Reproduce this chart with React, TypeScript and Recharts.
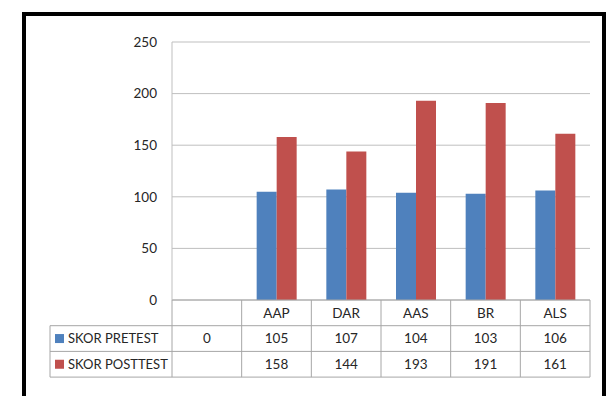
import { BarChart, Bar, XAxis, YAxis, CartesianGrid } from 'recharts';

const categories = ['', 'AAP', 'DAR', 'AAS', 'BR', 'ALS'];
const pretest: (number | null)[] = [0, 105, 107, 104, 103, 106];
const posttest: (number | null)[] = [null, 158, 144, 193, 191, 161];
const seriesNames = ['SKOR PRETEST', 'SKOR POSTTEST'];
const yTicks = [0, 50, 100, 150, 200, 250];

const data = categories.map((name, i) => ({
  name,
  pretest: pretest[i],
  posttest: posttest[i],
}));

const W = 609;
const H = 396;
const xAxisHeight = 96;
const margin = { top: 42, right: 19, bottom: 0, left: 0 };
const yAxisWidth = 172;
const plotLeft = margin.left + yAxisWidth;
const plotRight = W - margin.right;
const band = (plotRight - plotLeft) / categories.length;
const tableTop = H - margin.bottom - xAxisHeight;
const rowH = 25.7;
const tableLeft = 50;

const blue = '#4F81BD';
const red = '#C0504D';
const gridColor = '#BFBFBF';
const tableColor = '#A6A6A6';
const textColor = '#262626';
const fontSize = 13.5;

const fmt = (v: number | null) => (v === null || v === undefined ? '' : String(v));

function YTick(props: any) {
  const { y, payload } = props;
  return (
    <text x={plotLeft - 15} y={y} dy="0.35em" textAnchor="end" fill={textColor} fontSize={fontSize}>
      {payload.value}
    </text>
  );
}

// draws the data table under the plot, one column per category tick
function TableTick(props: any) {
  const { x, payload } = props;
  const i = payload.index;
  const cells = [categories[i], fmt(pretest[i]), fmt(posttest[i])];
  const bottom = tableTop + rowH * 3;
  return (
    <g>
      {cells.map((t, r) => (
        <text
          key={r}
          x={x}
          y={tableTop + rowH * r + rowH / 2}
          dy="0.35em"
          textAnchor="middle"
          fill={textColor}
          fontSize={fontSize}
        >
          {t}
        </text>
      ))}
      <line x1={x + band / 2} x2={x + band / 2} y1={tableTop} y2={bottom} stroke={tableColor} />
      {i === 0 && (
        <g>
          <line x1={plotLeft} x2={plotLeft} y1={tableTop} y2={bottom} stroke={tableColor} />
          <line x1={tableLeft} x2={tableLeft} y1={tableTop + rowH} y2={bottom} stroke={tableColor} />
          {[1, 2, 3].map((r) => (
            <line
              key={r}
              x1={tableLeft}
              x2={plotRight}
              y1={tableTop + rowH * r}
              y2={tableTop + rowH * r}
              stroke={tableColor}
            />
          ))}
          {seriesNames.map((name, s) => {
            const cy = tableTop + rowH * (s + 1) + rowH / 2;
            return (
              <g key={name}>
                <rect x={tableLeft + 5} y={cy - 4.5} width={9} height={9} fill={s === 0 ? blue : red} />
                <text x={tableLeft + 18} y={cy} dy="0.35em" fill={textColor} fontSize={13}>
                  {name}
                </text>
              </g>
            );
          })}
        </g>
      )}
    </g>
  );
}

export default function App() {
  return (
    <div
      style={{
        position: 'absolute',
        left: 0,
        top: 0,
        width: W,
        height: H,
        overflow: 'hidden',
        background: '#fff',
        fontFamily: 'Lato, sans-serif',
      }}
    >
      <BarChart width={W} height={H} data={data} margin={margin} barGap={0} barSize={20}>
        <CartesianGrid vertical={false} stroke={gridColor} />
        <XAxis
          dataKey="name"
          height={xAxisHeight}
          interval={0}
          tickLine={false}
          axisLine={{ stroke: tableColor }}
          tick={<TableTick />}
        />
        <YAxis
          width={yAxisWidth}
          domain={[0, 250]}
          ticks={yTicks}
          tickLine={false}
          axisLine={{ stroke: gridColor }}
          tick={<YTick />}
        />
        <Bar dataKey="pretest" fill={blue} isAnimationActive={false} />
        <Bar dataKey="posttest" fill={red} isAnimationActive={false} />
      </BarChart>
      <div
        style={{
          position: 'absolute',
          left: 22,
          top: 12,
          width: 584,
          height: 420,
          boxSizing: 'border-box',
          border: '4px solid #000',
          borderBottom: 'none',
          pointerEvents: 'none',
        }}
      />
    </div>
  );
}
